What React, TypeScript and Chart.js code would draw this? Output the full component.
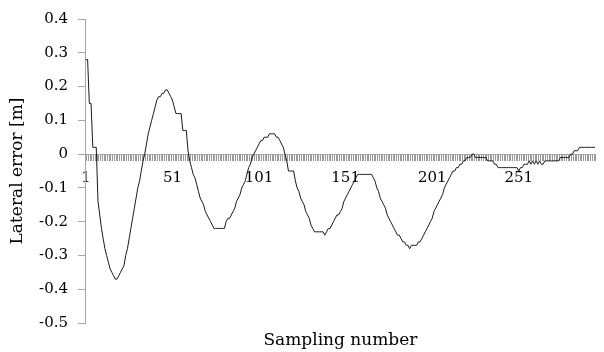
import React, { useEffect, useRef } from 'react';
import { Chart, registerables } from 'chart.js';

Chart.register(...registerables);

// Lateral error [m] for each sampling number
const lateralError: number[] = [
  0.28, 0.28, 0.15, 0.15, 0.02, 0.02, 0.02, -0.14, -0.18, -0.22,
  -0.25, -0.28, -0.30, -0.32, -0.34, -0.35, -0.36, -0.37, -0.37, -0.36,
  -0.35, -0.34, -0.33, -0.30, -0.28, -0.25, -0.22, -0.19, -0.16, -0.13,
  -0.10, -0.08, -0.05, -0.02, 0.00, 0.03, 0.06, 0.08, 0.10, 0.12,
  0.14, 0.16, 0.17, 0.17, 0.18, 0.18, 0.19, 0.19, 0.18, 0.17,
  0.16, 0.14, 0.12, 0.12, 0.12, 0.12, 0.07, 0.07, 0.07, 0.01,
  -0.02, -0.04, -0.06, -0.07, -0.09, -0.11, -0.13, -0.14, -0.15, -0.17,
  -0.18, -0.19, -0.20, -0.21, -0.22, -0.22, -0.22, -0.22, -0.22, -0.22,
  -0.22, -0.20, -0.19, -0.19, -0.18, -0.17, -0.16, -0.14, -0.13, -0.12,
  -0.10, -0.09, -0.08, -0.06, -0.04, -0.03, -0.01, 0.00, 0.01, 0.02,
  0.03, 0.04, 0.04, 0.05, 0.05, 0.05, 0.06, 0.06, 0.06, 0.06,
  0.05, 0.05, 0.04, 0.03, 0.02, 0.00, -0.02, -0.05, -0.05, -0.05,
  -0.05, -0.08, -0.10, -0.11, -0.13, -0.14, -0.15, -0.17, -0.18, -0.19,
  -0.21, -0.22, -0.23, -0.23, -0.23, -0.23, -0.23, -0.23, -0.24, -0.23,
  -0.22, -0.22, -0.21, -0.20, -0.19, -0.18, -0.18, -0.17, -0.16, -0.14,
  -0.13, -0.12, -0.11, -0.10, -0.09, -0.08, -0.07, -0.06, -0.06, -0.06,
  -0.06, -0.06, -0.06, -0.06, -0.06, -0.06, -0.07, -0.08, -0.10, -0.11,
  -0.13, -0.14, -0.15, -0.16, -0.18, -0.19, -0.20, -0.21, -0.22, -0.23,
  -0.24, -0.24, -0.25, -0.26, -0.26, -0.27, -0.27, -0.28, -0.27, -0.27,
  -0.27, -0.27, -0.26, -0.26, -0.25, -0.24, -0.23, -0.22, -0.21, -0.20,
  -0.19, -0.17, -0.16, -0.15, -0.14, -0.13, -0.12, -0.10, -0.09, -0.08,
  -0.07, -0.06, -0.05, -0.05, -0.04, -0.04, -0.03, -0.03, -0.02, -0.02,
  -0.01, -0.01, -0.01, 0.00, 0.00, -0.01, -0.01, -0.01, -0.01, -0.01,
  -0.01, -0.01, -0.02, -0.02, -0.02, -0.02, -0.03, -0.03, -0.04, -0.04,
  -0.04, -0.04, -0.04, -0.04, -0.04, -0.04, -0.04, -0.04, -0.04, -0.04,
  -0.05, -0.04, -0.04, -0.03, -0.03, -0.03, -0.02, -0.03, -0.02, -0.03,
  -0.02, -0.03, -0.02, -0.03, -0.03, -0.02, -0.02, -0.02, -0.02, -0.02,
  -0.02, -0.02, -0.02, -0.02, -0.01, -0.01, -0.01, -0.01, -0.01, -0.01,
  0.00, 0.00, 0.01, 0.01, 0.01, 0.02, 0.02, 0.02, 0.02, 0.02,
  0.02, 0.02, 0.02, 0.02, 0.02,
];

// Sampling numbers (categories) 1..N
const samplingNumbers: string[] = lateralError.map((_, i) => String(i + 1));
const labelEvery = 50;

// Y axis tick range
const yMin = -0.5;
const yMax = 0.4;
const yStep = 0.1;

const xTitle = 'Sampling number';
const yTitle = 'Lateral error [m]';

export default function App() {
  const ref = useRef<HTMLCanvasElement>(null);

  useEffect(() => {
    if (!ref.current) return;
    Chart.defaults.font.family = "'DejaVu Serif', serif";
    Chart.defaults.color = '#000';
    const chart = new Chart(ref.current, {
      type: 'line',
      data: {
        labels: samplingNumbers,
        datasets: [
          {
            data: lateralError,
            borderColor: '#1a1a1a',
            borderWidth: 1,
            pointRadius: 0,
            tension: 0,
            fill: false,
          },
        ],
      },
      options: {
        responsive: false,
        animation: false,
        layout: { padding: { top: 16, right: 1, left: 0, bottom: 0 } },
        plugins: {
          legend: { display: false },
          tooltip: { enabled: false },
        },
        scales: {
          x: {
            type: 'category',
            position: { y: 0 } as any,
            offset: true,
            grid: {
              display: true,
              drawOnChartArea: false,
              drawTicks: true,
              tickLength: 6,
              color: '#9a9a9a',
              offset: true,
            },
            border: { display: true, color: '#a6a6a6' },
            ticks: {
              autoSkip: false,
              maxRotation: 0,
              minRotation: 0,
              padding: 9,
              color: '#000',
              font: { size: 15 },
              callback: (_v: any, i: number) => (i % labelEvery === 0 ? samplingNumbers[i] : ''),
            },
          },
          x2: {
            type: 'category',
            position: 'bottom',
            grid: { display: false },
            border: { display: false },
            ticks: { display: false },
            title: {
              display: true,
              text: xTitle,
              color: '#000',
              font: { size: 17 },
              padding: { top: 0, bottom: 1 },
            },
            afterFit: (s: any) => {
              s.height = 29;
            },
          },
          y: {
            min: yMin,
            max: yMax,
            grid: {
              display: true,
              drawOnChartArea: false,
              drawTicks: true,
              tickLength: 7,
              color: '#a6a6a6',
            },
            border: { display: true, color: '#a6a6a6' },
            ticks: {
              stepSize: yStep,
              padding: 10,
              color: '#000',
              font: { size: 15 },
              callback: (v: any) => String(Math.round(Number(v) * 10) / 10),
            },
            title: {
              display: true,
              text: yTitle,
              color: '#000',
              font: { size: 17 },
              padding: { top: 7, bottom: 0 },
            },
            afterFit: (s: any) => {
              s.width = 85;
            },
          },
        },
      },
    });
    return () => chart.destroy();
  }, []);

  return (
    <div style={{ position: 'absolute', left: 0, top: 0, width: 604, height: 352, background: '#fff' }}>
      <canvas ref={ref} width={604} height={352} />
    </div>
  );
}
